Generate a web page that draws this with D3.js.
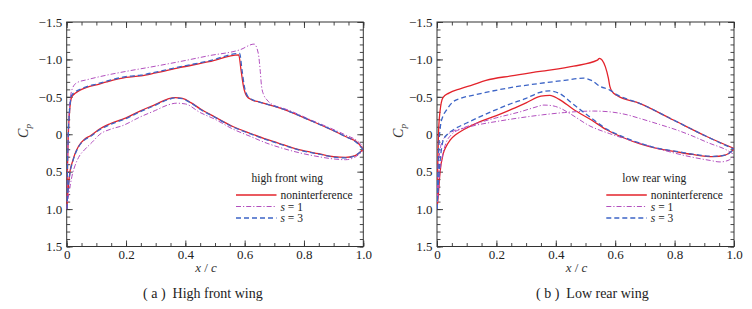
<!DOCTYPE html>
<html><head><meta charset="utf-8">
<script src="https://cdn.jsdelivr.net/npm/d3@7"></script>
<style>body{margin:0;background:#fff}svg{display:block}</style>
</head><body><svg id="c" width="752" height="309"></svg>
<script>
// ---------- data ----------
const seriesNames = ["noninterference", "s = 1", "s = 3"];
const xTicks = [0, 0.2, 0.4, 0.6, 0.8, 1.0];
const yTicks = [-1.5, -1.0, -0.5, 0, 0.5, 1.0, 1.5];
const panelTitles = ["high front wing", "low rear wing"];
const captions = ["High front wing", "Low rear wing"];
const captionTags = ["a", "b"];

// (a) high front wing  [x/c, Cp]
const frontNonUpper = [[0,1.0],[0.002,0.55],[0.005,0.05],[0.01,-0.32],[0.017,-0.5],[0.03,-0.55],[0.045,-0.59],[0.07,-0.63],[0.1,-0.66],[0.135,-0.7],[0.2,-0.76],[0.25,-0.78],[0.3,-0.82],[0.38,-0.89],[0.48,-0.97],[0.58,-1.06],[0.588,-0.85],[0.596,-0.64],[0.607,-0.51],[0.624,-0.46],[0.65,-0.43],[0.72,-0.35],[0.83,-0.17],[0.94,0.03],[0.98,0.11],[1.0,0.2]];
const frontNonLower = [[0,1.0],[0.005,0.72],[0.011,0.5],[0.02,0.36],[0.028,0.26],[0.04,0.16],[0.062,0.06],[0.08,0.02],[0.107,-0.06],[0.146,-0.14],[0.2,-0.22],[0.247,-0.31],[0.3,-0.4],[0.34,-0.47],[0.365,-0.49],[0.39,-0.48],[0.42,-0.42],[0.45,-0.34],[0.5,-0.23],[0.562,-0.1],[0.62,-0.01],[0.675,0.07],[0.73,0.14],[0.787,0.21],[0.85,0.26],[0.9,0.3],[0.94,0.31],[0.97,0.29],[1.0,0.2]];
const frontS1Upper = [[0,1.0],[0.002,0.5],[0.005,0.0],[0.01,-0.4],[0.02,-0.62],[0.035,-0.69],[0.07,-0.73],[0.135,-0.79],[0.2,-0.84],[0.3,-0.91],[0.38,-0.97],[0.48,-1.05],[0.585,-1.13],[0.632,-1.205],[0.646,-1.08],[0.652,-0.87],[0.657,-0.64],[0.665,-0.52],[0.675,-0.46],[0.702,-0.38],[0.72,-0.36],[0.83,-0.18],[0.94,0.01],[0.98,0.09],[1.0,0.17]];
const frontS1Lower = [[0,1.0],[0.005,0.85],[0.012,0.68],[0.02,0.52],[0.028,0.42],[0.04,0.31],[0.062,0.2],[0.085,0.11],[0.112,0.0],[0.15,-0.07],[0.185,-0.11],[0.247,-0.23],[0.3,-0.32],[0.34,-0.39],[0.37,-0.415],[0.4,-0.405],[0.45,-0.29],[0.5,-0.2],[0.56,-0.07],[0.62,0.03],[0.675,0.12],[0.73,0.19],[0.787,0.25],[0.85,0.3],[0.9,0.33],[0.94,0.34],[0.97,0.31],[1.0,0.22]];
const frontS3Upper = [[0,1.0],[0.002,0.55],[0.005,0.05],[0.01,-0.34],[0.017,-0.52],[0.03,-0.57],[0.045,-0.6],[0.07,-0.64],[0.1,-0.67],[0.135,-0.71],[0.2,-0.77],[0.25,-0.79],[0.3,-0.83],[0.38,-0.9],[0.48,-0.98],[0.583,-1.08],[0.591,-0.86],[0.599,-0.64],[0.61,-0.51],[0.627,-0.46],[0.65,-0.43],[0.72,-0.35],[0.83,-0.17],[0.94,0.03],[0.98,0.12],[1.0,0.21]];
const frontS3Lower = [[0,1.0],[0.005,0.73],[0.011,0.52],[0.02,0.37],[0.028,0.27],[0.04,0.17],[0.062,0.07],[0.08,0.03],[0.107,-0.05],[0.146,-0.13],[0.2,-0.21],[0.247,-0.3],[0.3,-0.39],[0.34,-0.46],[0.365,-0.485],[0.39,-0.475],[0.42,-0.415],[0.45,-0.335],[0.5,-0.225],[0.562,-0.095],[0.62,-0.005],[0.675,0.075],[0.73,0.145],[0.787,0.215],[0.85,0.265],[0.9,0.305],[0.94,0.315],[0.97,0.29],[1.0,0.2]];

// (b) low rear wing  [x/c, Cp]
const rearNonUpper = [[0,1.0],[0.002,0.5],[0.005,0.0],[0.01,-0.3],[0.02,-0.49],[0.04,-0.55],[0.08,-0.61],[0.12,-0.66],[0.165,-0.72],[0.25,-0.78],[0.347,-0.84],[0.46,-0.91],[0.54,-0.99],[0.547,-1.015],[0.556,-0.99],[0.567,-0.9],[0.577,-0.75],[0.582,-0.64],[0.59,-0.57],[0.605,-0.52],[0.684,-0.41],[0.796,-0.19],[0.908,0.03],[1.0,0.19]];
const rearNonLower = [[0,1.0],[0.005,0.78],[0.01,0.52],[0.021,0.26],[0.03,0.17],[0.044,0.08],[0.065,0.0],[0.089,-0.06],[0.145,-0.17],[0.2,-0.25],[0.243,-0.32],[0.3,-0.42],[0.35,-0.51],[0.38,-0.52],[0.41,-0.47],[0.46,-0.33],[0.52,-0.19],[0.571,-0.06],[0.63,0.05],[0.684,0.13],[0.74,0.19],[0.8,0.23],[0.86,0.27],[0.93,0.3],[0.97,0.28],[1.0,0.2]];
const rearS1Upper = [[0,1.0],[0.003,0.6],[0.006,0.38],[0.01,0.22],[0.017,0.1],[0.027,0.04],[0.04,-0.01],[0.06,-0.05],[0.09,-0.08],[0.13,-0.12],[0.2,-0.17],[0.28,-0.22],[0.356,-0.26],[0.43,-0.29],[0.526,-0.31],[0.58,-0.3],[0.64,-0.26],[0.684,-0.21],[0.75,-0.13],[0.805,-0.06],[0.852,0.01],[0.917,0.12],[0.975,0.21],[1.0,0.27]];
const rearS1Lower = [[0,1.0],[0.004,0.78],[0.01,0.5],[0.02,0.26],[0.03,0.12],[0.05,0.0],[0.08,-0.07],[0.13,-0.14],[0.2,-0.22],[0.28,-0.3],[0.33,-0.36],[0.36,-0.39],[0.39,-0.38],[0.414,-0.35],[0.45,-0.27],[0.515,-0.11],[0.58,-0.01],[0.684,0.12],[0.76,0.21],[0.852,0.3],[0.92,0.35],[0.953,0.37],[0.98,0.35],[1.0,0.29]];
const rearS3Upper = [[0,1.0],[0.003,0.5],[0.007,0.1],[0.012,-0.12],[0.02,-0.24],[0.033,-0.33],[0.053,-0.43],[0.08,-0.48],[0.131,-0.53],[0.243,-0.62],[0.347,-0.68],[0.43,-0.72],[0.493,-0.75],[0.52,-0.72],[0.549,-0.64],[0.582,-0.59],[0.605,-0.53],[0.684,-0.41],[0.796,-0.19],[0.908,0.03],[1.0,0.2]];
const rearS3Lower = [[0,1.0],[0.004,0.7],[0.01,0.38],[0.021,0.08],[0.035,0.0],[0.055,-0.06],[0.1,-0.15],[0.2,-0.33],[0.243,-0.4],[0.3,-0.48],[0.347,-0.56],[0.378,-0.58],[0.41,-0.55],[0.459,-0.4],[0.515,-0.23],[0.571,-0.07],[0.63,0.04],[0.684,0.12],[0.74,0.185],[0.8,0.225],[0.86,0.265],[0.93,0.295],[0.97,0.28],[1.0,0.2]];

// ---------- drawing ----------
const styles = [
  {color: "#e3232b", width: 1.3, dash: null},
  {color: "#b24fbe", width: 1.0, dash: "5,2,1.2,2"},
  {color: "#3c64c6", width: 1.3, dash: "5,3"}
];
const panels = [
  {x0: 66.7, x1: 363.3, series: [[frontNonUpper, frontNonLower], [frontS1Upper, frontS1Lower], [frontS3Upper, frontS3Lower]],
   cpX: 27.5, capX: 143, legTitleX: 287.3},
  {x0: 437, x1: 734, series: [[rearNonUpper, rearNonLower], [rearS1Upper, rearS1Lower], [rearS3Upper, rearS3Lower]],
   cpX: 402.5, capX: 536, legTitleX: 654.3}
];
const yTop = 22, yBot = 246.5;
const font = "'Liberation Serif','Times New Roman',serif";
const svg = d3.select("#c");
const fmt = v => v === 0 ? "0" : d3.format(".1f")(v);

panels.forEach((p, pi) => {
  const x = d3.scaleLinear().domain([0, 1]).range([p.x0, p.x1]);
  const y = d3.scaleLinear().domain([-1.5, 1.5]).range([yTop, yBot]);
  const g = svg.append("g");
  const xMinor = d3.range(0, 21).map(i => i * 0.05);
  const yMinor = d3.range(0, 31).map(i => -1.5 + i * 0.1);

  function axisG(axis, tr) {
    const a = g.append("g").attr("transform", tr).call(axis);
    a.select(".domain").remove();
    a.selectAll("line").attr("stroke", "#333").attr("stroke-width", 0.9);
    a.selectAll("text").style("font-family", font).style("font-size", "13px").attr("fill", "#222");
    return a;
  }
  // minor ticks
  axisG(d3.axisBottom(x).tickValues(xMinor).tickSize(-3.5).tickFormat(""), `translate(0,${yBot})`);
  axisG(d3.axisTop(x).tickValues(xMinor).tickSize(-3.5).tickFormat(""), `translate(0,${yTop})`);
  axisG(d3.axisLeft(y).tickValues(yMinor).tickSize(-3.5).tickFormat(""), `translate(${p.x0},0)`);
  axisG(d3.axisRight(y).tickValues(yMinor).tickSize(-3.5).tickFormat(""), `translate(${p.x1},0)`);
  // major ticks
  axisG(d3.axisBottom(x).tickValues(xTicks).tickSize(-6).tickPadding(3.5).tickFormat(fmt), `translate(0,${yBot})`);
  axisG(d3.axisTop(x).tickValues(xTicks).tickSize(-6).tickFormat(""), `translate(0,${yTop})`);
  axisG(d3.axisLeft(y).tickValues(yTicks).tickSize(-6).tickPadding(4.5).tickFormat(fmt), `translate(${p.x0},0)`);
  axisG(d3.axisRight(y).tickValues(yTicks).tickSize(-6).tickFormat(""), `translate(${p.x1},0)`);

  g.append("rect").attr("x", p.x0).attr("y", yTop).attr("width", p.x1 - p.x0).attr("height", yBot - yTop)
    .attr("fill", "none").attr("stroke", "#333").attr("stroke-width", 1);

  const line = d3.line().x(d => x(d[0])).y(d => y(d[1])).curve(d3.curveMonotoneX);
  const clipId = "clip" + pi;
  svg.append("clipPath").attr("id", clipId).append("rect")
    .attr("x", p.x0).attr("y", yTop).attr("width", p.x1 - p.x0).attr("height", yBot - yTop);
  const lg = g.append("g").attr("clip-path", `url(#${clipId})`);
  p.series.forEach((surfaces, si) => {
    const st = styles[si];
    surfaces.forEach(arr => {
      lg.append("path").attr("d", line(arr)).attr("fill", "none")
        .attr("stroke", st.color).attr("stroke-width", st.width)
        .attr("stroke-dasharray", st.dash).attr("stroke-linejoin", "round");
    });
  });

  // axis titles
  const midX = (p.x0 + p.x1) / 2 - 9;
  const xt = g.append("text").attr("x", midX).attr("y", 272).attr("text-anchor", "middle")
    .style("font-family", font).style("font-size", "13px").attr("fill", "#333");
  xt.append("tspan").attr("font-style", "italic").text("x");
  xt.append("tspan").text(" / ");
  xt.append("tspan").attr("font-style", "italic").text("c");

  const yt = g.append("text").attr("transform", `translate(${p.cpX},${131}) rotate(-90)`)
    .attr("text-anchor", "middle").style("font-family", font).attr("fill", "#333");
  yt.append("tspan").attr("font-style", "italic").style("font-size", "14px").text("C");
  yt.append("tspan").attr("font-style", "italic").style("font-size", "9px").attr("dy", 3).text("p");

  // legend
  const lx = p.x0 + 169.3;
  g.append("text").attr("x", p.legTitleX).attr("y", 182).attr("text-anchor", "middle")
    .style("font-family", font).style("font-size", "11.5px").attr("fill", "#222").text(panelTitles[pi]);
  const ly = [195, 206.5, 218];
  seriesNames.forEach((name, si) => {
    const st = styles[si];
    g.append("line").attr("x1", lx).attr("x2", lx + 40.5).attr("y1", ly[si]).attr("y2", ly[si])
      .attr("stroke", st.color).attr("stroke-width", st.width).attr("stroke-dasharray", st.dash);
    const t = g.append("text").attr("x", lx + 44.5).attr("y", ly[si] + 4)
      .style("font-family", font).style("font-size", "11.5px").attr("fill", "#222");
    if (si === 0) t.text(name);
    else {
      t.append("tspan").attr("font-style", "italic").text(name.split(" ")[0]);
      t.append("tspan").text(" " + name.split(" ").slice(1).join(" "));
    }
  });

  // caption
  const cap = g.append("text").attr("x", p.capX).attr("y", 298).attr("xml:space", "preserve")
    .style("font-family", font).style("font-size", "14px").attr("fill", "#222");
  cap.text(`( ${captionTags[pi]} )  ${captions[pi]}`);
});
</script>
</body></html>
